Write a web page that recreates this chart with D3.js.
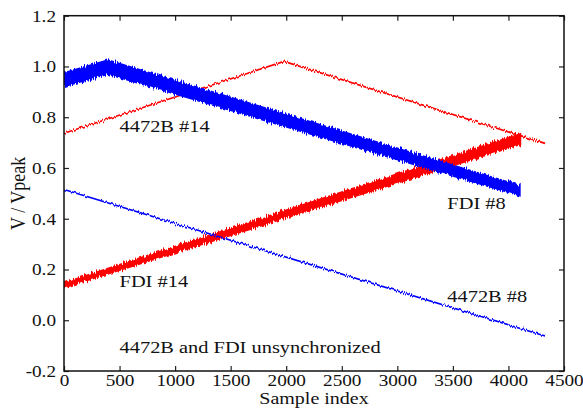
<!DOCTYPE html>
<html>
<head>
<meta charset="utf-8">
<script src="https://cdn.jsdelivr.net/npm/d3@7"></script>
<style>
  html, body { margin: 0; padding: 0; background: #fff; }
  svg { display: block; }
  text { font-family: "Liberation Serif", "Times New Roman", serif; fill: #111; }
</style>
</head>
<body>
<svg id="chart" width="583" height="408"></svg>
<script>
// Axis tick values
const xTicks = [0, 500, 1000, 1500, 2000, 2500, 3000, 3500, 4000, 4500];
const yTicks = [-0.2, 0.0, 0.2, 0.4, 0.6, 0.8, 1.0, 1.2];

// FDI #8 (blue, wide band): breakpoints, band centre and half-width
const fdi8X    = [0, 396, 4110];
const fdi8Mid  = [0.948, 0.997, 0.510];
const fdi8Half = [0.030, 0.031, 0.023];

// FDI #14 (red, wide band)
const fdi14X    = [0, 4115];
const fdi14Mid  = [0.138, 0.715];
const fdi14Half = [0.013, 0.024];

// 4472B #14 (red, thin trace)
const b14X   = [0, 1980, 4330];
const b14Mid = [0.737, 1.020, 0.697];

// 4472B #8 (blue, thin trace)
const b8X   = [0, 4330];
const b8Mid = [0.515, -0.062];

// Annotation texts with their anchor in data coordinates
const labelText = ["4472B #14", "FDI #8", "FDI #14", "4472B #8", "4472B and FDI unsynchronized"];
const labelX    = [500, 3450, 500, 3450, 500];
const labelY    = [0.741, 0.438, 0.130, 0.071, -0.130];

const W = 583, H = 408;
const m = { left: 64, right: 19, top: 15.7, bottom: 37 };
const svg = d3.select("#chart");

const x = d3.scaleLinear().domain([0, 4500]).range([m.left, W - m.right]);
const y = d3.scaleLinear().domain([-0.2, 1.2]).range([H - m.bottom, m.top]);

// Jitter filter: vertical displacement driven by fine noise along x
const defs = svg.append("defs");
function jitter(id, freq, scale) {
  const f = defs.append("filter").attr("id", id)
    .attr("filterUnits", "userSpaceOnUse")
    .attr("x", 0).attr("y", 0).attr("width", W).attr("height", H);
  f.append("feTurbulence").attr("type", "fractalNoise")
    .attr("baseFrequency", freq).attr("numOctaves", 2).attr("seed", 3).attr("result", "n");
  f.append("feColorMatrix").attr("in", "n").attr("type", "matrix")
    .attr("values", "1 0 0 0 0  0 0 0 0 0.5  0 0 0 0 0  0 0 0 0 1").attr("result", "nm");
  f.append("feDisplacementMap").attr("in", "SourceGraphic").attr("in2", "nm")
    .attr("scale", scale).attr("xChannelSelector", "G").attr("yChannelSelector", "R");
}
jitter("jWide", "0.9 0.03", 7);
jitter("jThin", "0.9 0.03", 5);

const plot = svg.append("g");

function band(xs, mid, half, color, filt) {
  const pts = xs.map((v, i) => ({ x: v, lo: mid[i] - half[i], hi: mid[i] + half[i] }));
  plot.append("path")
    .attr("d", d3.area().x(d => x(d.x)).y0(d => y(d.lo)).y1(d => y(d.hi))(pts))
    .attr("fill", color).attr("filter", `url(#${filt})`);
}
function trace(xs, mid, color, filt) {
  const pts = xs.map((v, i) => ({ x: v, y: mid[i] }));
  plot.append("path")
    .attr("d", d3.line().x(d => x(d.x)).y(d => y(d.y))(pts))
    .attr("fill", "none").attr("stroke", color).attr("stroke-width", 1.7)
    .attr("filter", `url(#${filt})`);
}

// Red traces underneath, blue on top
trace(b14X, b14Mid, "#ff0000", "jThin");
band(fdi14X, fdi14Mid, fdi14Half, "#ff0000", "jWide");
band(fdi8X, fdi8Mid, fdi8Half, "#0000ff", "jWide");
trace(b8X, b8Mid, "#0000ff", "jThin");

// Axes with inward ticks on all four sides
const fmtY = d => d.toFixed(1);
const fmtX = d => String(d);
const tick = 5;

const gL = svg.append("g").attr("transform", `translate(${m.left},0)`)
  .call(d3.axisLeft(y).tickValues(yTicks).tickFormat(fmtY).tickSizeInner(-tick).tickSizeOuter(0));
const gR = svg.append("g").attr("transform", `translate(${W - m.right},0)`)
  .call(d3.axisRight(y).tickValues(yTicks).tickFormat("").tickSizeInner(-tick).tickSizeOuter(0));
const gB = svg.append("g").attr("transform", `translate(0,${H - m.bottom})`)
  .call(d3.axisBottom(x).tickValues(xTicks).tickFormat(fmtX).tickSizeInner(-tick).tickSizeOuter(0));
const gT = svg.append("g").attr("transform", `translate(0,${m.top})`)
  .call(d3.axisTop(x).tickValues(xTicks).tickFormat("").tickSizeInner(-tick).tickSizeOuter(0));

[gL, gR, gB, gT].forEach(g => {
  g.select(".domain").remove();
  g.selectAll(".tick line").attr("stroke", "#222").attr("stroke-width", 1.2);
});

gL.selectAll(".tick text")
  .attr("x", 0).attr("dy", "0.34em")
  .attr("transform", "translate(-8,0) scale(1.2,1)")
  .style("font-size", "16px").attr("fill", "#111");
gB.selectAll(".tick text")
  .attr("y", 0).attr("dy", 0)
  .attr("transform", "translate(0,15) scale(1.2,1)")
  .style("font-size", "16px").attr("fill", "#111");

// Plot frame
svg.append("rect")
  .attr("x", m.left).attr("y", m.top)
  .attr("width", W - m.left - m.right).attr("height", H - m.top - m.bottom)
  .attr("fill", "none").attr("stroke", "#111").attr("stroke-width", 1.5);

// Axis titles
svg.append("text")
  .attr("transform", `translate(${(m.left + W - m.right) / 2},${H - 4}) scale(1.25,1)`)
  .attr("text-anchor", "middle").style("font-size", "16px")
  .text("Sample index");
svg.append("text")
  .attr("transform", `translate(25,${(m.top + H - m.bottom) / 2}) rotate(-90) scale(1,1.2)`)
  .attr("text-anchor", "middle").style("font-size", "18px")
  .text("V / Vpeak");

// Series annotations
svg.append("g").selectAll("text")
  .data(labelText)
  .join("text")
  .attr("transform", (d, i) => `translate(${x(labelX[i])},${y(labelY[i])}) scale(1.2,1)`)
  .style("font-size", "17px")
  .text(d => d);
</script>
</body>
</html>
